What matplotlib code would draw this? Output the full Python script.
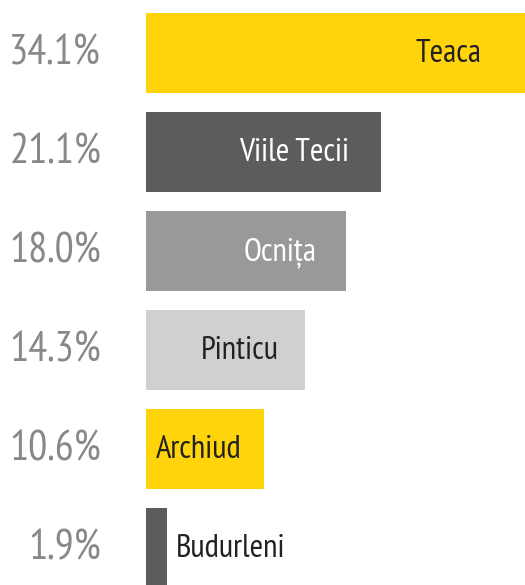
import matplotlib
matplotlib.use("Agg")
import matplotlib.pyplot as plt

categories = ["Teaca", "Viile Tecii", "Ocnița", "Pinticu", "Archiud", "Budurleni"]
values = [34.1, 21.1, 18.0, 14.3, 10.6, 1.9]
pct_labels = ["34.1%", "21.1%", "18.0%", "14.3%", "10.6%", "1.9%"]
bar_colors = ["#FFD40B", "#5C5C5C", "#999999", "#D0D0D0", "#FFD40B", "#5C5C5C"]
text_colors = ["#222222", "#FFFFFF", "#FFFFFF", "#222222", "#222222", "#222222"]

fam = ["PT Sans Narrow", "DejaVu Sans"]

W, H, DPI = 525, 585, 100
fig = plt.figure(figsize=(W / DPI, H / DPI), dpi=DPI)
left_px = 146
ax = fig.add_axes([left_px / W, 0, (W - left_px) / W, 1])
pitch, first_center, bar_h = 99.0, 53.0, 80.0
ax.set_ylim((H - first_center) / pitch, -first_center / pitch)
ax.set_xlim(0, max(values))
ax.axis("off")

ypos = list(range(len(values)))
ax.barh(ypos, values, height=bar_h / pitch, color=bar_colors, edgecolor="none")

px2pt = 72.0 / DPI
axw_px = W - left_px
for i, (v, c, tc, pl) in enumerate(zip(values, categories, text_colors, pct_labels)):
    ax.annotate(pl, xy=(0, i), xytext=(-45 * px2pt, -1 * px2pt), textcoords="offset points",
                ha="right", va="center", fontsize=30.5, color="#888888", family=fam)
    wpx = v / max(values) * axw_px
    if v < 5:
        ax.annotate(c, xy=(v, i), xytext=(9 * px2pt, -1.5 * px2pt), textcoords="offset points",
                    ha="left", va="center", fontsize=23.5, color="#222222", family=fam)
    else:
        pad = 13 + 0.08 * wpx
        ax.annotate(c, xy=(v, i), xytext=(-pad * px2pt, -1.5 * px2pt), textcoords="offset points",
                    ha="right", va="center", fontsize=23.5, color=tc, family=fam)

fig.savefig("out.png", dpi=DPI)
